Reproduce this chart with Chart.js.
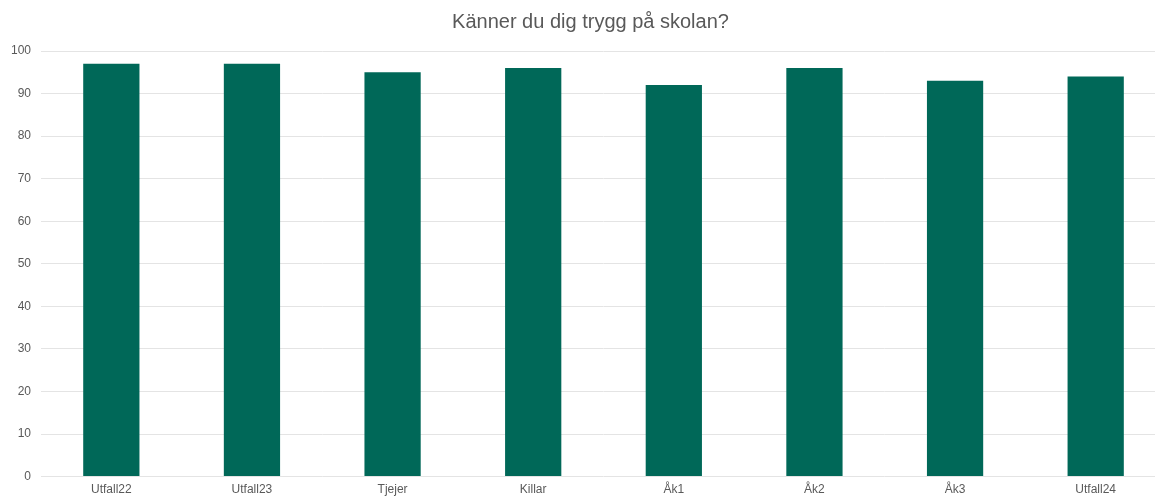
<!DOCTYPE html>
<html>
<head>
<meta charset="utf-8">
<script src="https://cdn.jsdelivr.net/npm/chart.js@4"></script>
<style>
    html, body { margin: 0; padding: 0; background: #fff; overflow: hidden; }
    #wrap { width: 1170px; height: 499px; position: relative; }
</style>
</head>
<body>
<div id="wrap"><canvas id="chart"></canvas></div>
<script>
// === Data ===
const categories = ['Utfall22', 'Utfall23', 'Tjejer', 'Killar', 'Åk1', 'Åk2', 'Åk3', 'Utfall24'];
const values = [97, 97, 95, 96, 92, 96, 93, 94];
const yTicks = [0, 10, 20, 30, 40, 50, 60, 70, 80, 90, 100];

const textColor = '#595959';
const font = { family: '"Liberation Sans", Arial, sans-serif', size: 12 };

// nudge the title a bit to the right, like the original
const titleShift = {
    id: 'titleShift',
    afterLayout(chart) {
        if (chart.titleBlock) {
            chart.titleBlock.left += 7;
            chart.titleBlock.right += 7;
        }
    }
};

new Chart(document.getElementById('chart'), {
    type: 'bar',
    data: {
        labels: categories,
        datasets: [{
            data: values,
            backgroundColor: '#006858',
            borderWidth: 0,
            barPercentage: 0.4,
            categoryPercentage: 1.0
        }]
    },
    options: {
        responsive: true,
        maintainAspectRatio: false,
        animation: false,
        layout: { padding: { left: 1, right: 4, top: 10, bottom: -4 } },
        plugins: {
            legend: { display: false },
            tooltip: { enabled: false },
            title: {
                display: true,
                text: 'Känner du dig trygg på skolan?',
                color: textColor,
                font: { family: font.family, size: 20, weight: 'normal' },
                padding: { top: 0, bottom: 17 }
            }
        },
        scales: {
            x: {
                grid: { display: false, drawTicks: false },
                border: { display: false },
                ticks: { color: textColor, font: font, padding: 6, maxRotation: 0 }
            },
            y: {
                min: 0,
                max: 100,
                afterBuildTicks: axis => { axis.ticks = yTicks.map(v => ({ value: v })); },
                grid: { color: '#e4e4e4', lineWidth: 1, drawTicks: false },
                border: { display: false },
                ticks: { color: textColor, font: font, padding: 10 }
            }
        }
    },
    plugins: [titleShift]
});
</script>
</body>
</html>
